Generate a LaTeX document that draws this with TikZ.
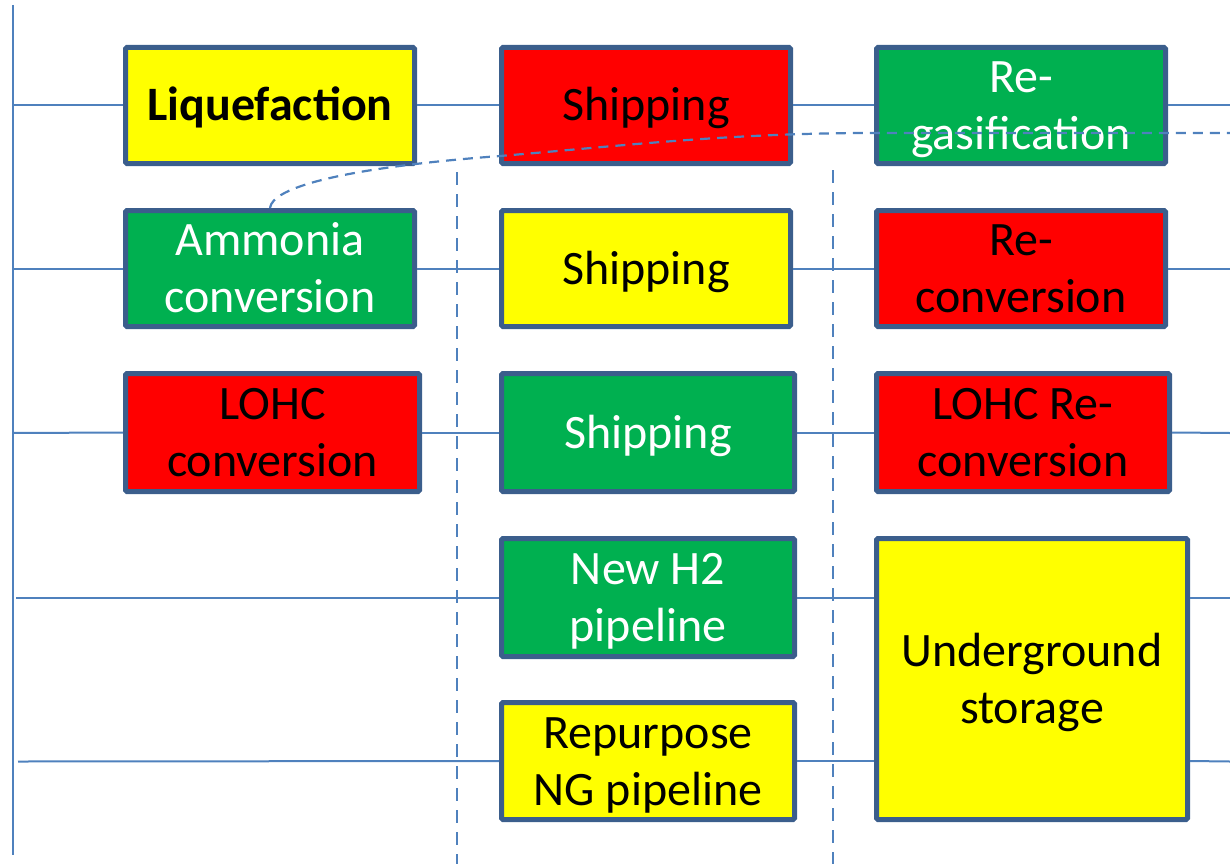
\documentclass[tikz,border=0pt]{standalone}
\usepackage{fontspec}
\setmainfont{Carlito}
\definecolor{bordc}{HTML}{3B5E8C}
\definecolor{linec}{HTML}{4F81BD}
\definecolor{yel}{HTML}{FFFF00}
\definecolor{rd}{HTML}{FF0000}
\definecolor{grn}{HTML}{00B050}
\newcommand\tl[1]{\begin{tabular}[t]{@{}c@{}}#1\end{tabular}}
\begin{document}
\begin{tikzpicture}[x=1pt,y=-1pt,
  box/.style={draw=bordc, line width=5pt, rounded corners=1.5pt, inner sep=0pt,
    font=\fontsize{48}{57}\selectfont, text height=31pt, text depth=0pt},
  two/.style={text depth=57pt},
  ybox/.style={box, fill=yel, text=black},
  rbox/.style={box, fill=rd, text=black},
  gbox/.style={box, fill=grn, text=white},
  conn/.style={draw=linec, line width=2pt},
  sep/.style={draw=linec, line width=2pt, dash pattern=on 13pt off 9pt},
  curv/.style={draw=linec, line width=2.2pt, dash pattern=on 10pt off 7pt}]
\useasboundingbox (0,0) rectangle (1230,864);
% vertical axis
\coordinate (vtop) at (13,5);
\coordinate (vbot) at (13,855);
\draw[conn] (vtop) -- (vbot);
% dashed separators
\coordinate (s1t) at (457,172);
\coordinate (s1b) at (457,864);
\coordinate (s2t) at (833,170);
\coordinate (s2b) at (833,864);
\draw[sep] (s1t) -- (s1b);
\draw[sep] (s2t) -- (s2b);
% boxes
\node[ybox, minimum width=289pt, minimum height=116pt] (liq) at (270,105.5) {\bfseries Liquefaction};
\node[rbox, minimum width=289pt, minimum height=116pt] (ship1) at (646,105.5) {Shipping};
\node[gbox, two, minimum width=289pt, minimum height=116pt] (regas) at (1021,105.5) {\tl{Re-\\gasification}};
\node[gbox, two, minimum width=289pt, minimum height=116pt] (amm) at (270,268.5) {\tl{Ammonia\\conversion}};
\node[ybox, minimum width=289pt, minimum height=116pt] (ship2) at (646,268.5) {Shipping};
\node[rbox, two, minimum width=289pt, minimum height=116pt] (reconv) at (1021,268.5) {\tl{Re-\\conversion}};
\node[rbox, two, minimum width=294pt, minimum height=118pt] (lohc) at (272.5,432.5) {\tl{LOHC\\conversion}};
\node[gbox, minimum width=293pt, minimum height=118pt] (ship3) at (648,432.5) {Shipping};
\node[rbox, two, minimum width=293pt, minimum height=118pt] (lohcre) at (1023,432.5) {\tl{LOHC Re-\\conversion}};
\node[gbox, two, minimum width=293pt, minimum height=118pt] (h2) at (648,597.5) {\tl{New H2\\pipeline}};
\node[ybox, two, minimum width=293pt, minimum height=117pt] (ng) at (648,761) {\tl{Repurpose\\NG pipeline}};
\node[ybox, two, minimum width=311pt, minimum height=281pt] (ug) at (1032,679) {\tl{Underground\\storage}};
% left ends
\coordinate (l1) at (13,105.5);
\coordinate (l2) at (13,268.5);
\coordinate (l3) at (13,433);
\coordinate (l4) at (16,597.5);
\coordinate (l5) at (18,761.5);
% right ends
\coordinate (r1) at (1230,105.5);
\coordinate (r2) at (1230,268.5);
\coordinate (r3) at (1230,433);
\coordinate (r4) at (1230,597.5);
\coordinate (r5) at (1230,761.5);
% connectors
\draw[conn] (l1) -- (liq.west);
\draw[conn] (liq.east) -- (ship1.west);
\draw[conn] (ship1.east) -- (regas.west);
\draw[conn] (regas.east) -- (r1);
\draw[conn] (l2) -- (amm.west);
\draw[conn] (amm.east) -- (ship2.west);
\draw[conn] (ship2.east) -- (reconv.west);
\draw[conn] (reconv.east) -- (r2);
\draw[conn] (l3) -- (lohc.west);
\draw[conn] (lohc.east) -- (ship3.west);
\draw[conn] (ship3.east) -- (lohcre.west);
\draw[conn] (lohcre.east) -- (r3);
\draw[conn] (l4) -- (h2.west);
\draw[conn] (h2.east) -- (h2.east -| ug.west);
\draw[conn] (h2.east -| ug.east) -- (r4);
\draw[conn] (l5) -- (ng.west);
\draw[conn] (ng.east) -- (ng.east -| ug.west);
\draw[conn] (ng.east -| ug.east) -- (r5);
% dashed curve
\coordinate (cend) at (1230,133);
\draw[curv] (amm.north) .. controls (272,188) and (340,168) .. (500,156)
  .. controls (620,146) and (720,134) .. (860,133) -- (cend);
\end{tikzpicture}
\end{document}
